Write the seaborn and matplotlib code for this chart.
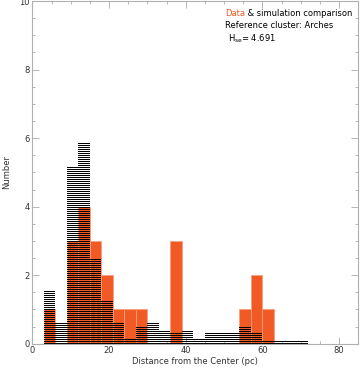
import warnings
import numpy as np
import pandas as pd
import matplotlib
matplotlib.use("Agg")
import matplotlib.pyplot as plt
import matplotlib.hatch as mhatch
from matplotlib.path import Path
import seaborn as sns
from matplotlib.ticker import MultipleLocator

warnings.filterwarnings("ignore")

# bin edges (pc)
bin_edges = [3, 6, 9, 12, 15, 18, 21, 24, 27, 30, 33, 36, 39, 42, 45, 48,
             51, 54, 57, 60, 63, 66, 69, 72]
bin_centers = [4.5, 7.5, 10.5, 13.5, 16.5, 19.5, 22.5, 25.5, 28.5, 31.5, 34.5,
               37.5, 40.5, 43.5, 46.5, 49.5, 52.5, 55.5, 58.5, 61.5, 64.5,
               67.5, 70.5]
# observed data counts
data_counts = [1, 0, 3, 4, 3, 2, 1, 1, 1, 0, 0, 3, 0, 0, 0, 0, 0, 1, 2, 1,
               0, 0, 0]
# simulation (mean) counts
sim_counts = [1.55, 0.6, 5.18, 5.87, 2.49, 1.27, 0.59, 0.18, 0.48, 0.59, 0.36,
              0.32, 0.36, 0.18, 0.32, 0.32, 0.32, 0.48, 0.32, 0.08, 0.07,
              0.07, 0.07]

df = pd.DataFrame({"center": bin_centers, "data": data_counts,
                   "sim": sim_counts})

DPI = 72
S = 100 / DPI  # scale point sizes so they look as at 100 dpi


class PixelHorizontalHatch(mhatch.HatchPatternBase):
    """Horizontal hatch lines centred on pixel rows (crisp stripes)."""

    def __init__(self, hatch, density):
        self.num_lines = int(hatch.count('=') * density)
        self.num_vertices = self.num_lines * 2

    def set_vertices_and_codes(self, vertices, codes):
        steps = np.arange(self.num_lines) / self.num_lines + 0.5 / DPI
        vertices[0::2, 0] = 0.0
        vertices[0::2, 1] = steps
        vertices[1::2, 0] = 1.0
        vertices[1::2, 1] = steps
        codes[0::2] = Path.MOVETO
        codes[1::2] = Path.LINETO


mhatch._hatch_types.append(PixelHorizontalHatch)

sns.set_style("white")
plt.rcParams["font.family"] = ["DejaVu Sans"]
plt.rcParams["hatch.linewidth"] = 1.0
plt.rcParams["hatch.color"] = "black"

fig = plt.figure(figsize=(364 / DPI, 368 / DPI), dpi=DPI)
ax = fig.add_axes([0.089, 0.066, 0.895, 0.931])

red = "#F15A24"
sns.histplot(data=df, x="center", weights="data", bins=bin_edges,
             element="bars", fill=True, color=red, alpha=1.0,
             edgecolor="#F8A080", linewidth=0.6 * S, ax=ax)
sns.histplot(data=df, x="center", weights="sim", bins=bin_edges,
             element="bars", fill=False, edgecolor="black", linewidth=0.0,
             ax=ax)
for p in ax.patches[len(bin_centers):]:
    p.set_hatch("======")
    p.set_edgecolor("black")
    p.set_linewidth(0)
    p.set_fill(False)

ax.set_xlim(0, 85)
ax.set_ylim(0, 10)
ax.xaxis.set_major_locator(MultipleLocator(20))
ax.xaxis.set_minor_locator(MultipleLocator(5))
ax.yaxis.set_major_locator(MultipleLocator(2))
ax.yaxis.set_minor_locator(MultipleLocator(0.5))
ax.tick_params(which="both", direction="in", top=True, right=True,
               bottom=True, left=True, colors="#aaaaaa", labelcolor="#333333",
               labelsize=6 * S, pad=2 * S)
ax.tick_params(which="major", length=5 * S, width=0.6 * S)
ax.tick_params(which="minor", length=2.5 * S, width=0.6 * S)
for s in ax.spines.values():
    s.set_color("#b0b0b0")
    s.set_linewidth(0.8 * S)

ax.set_xlabel("Distance from the Center (pc)", fontsize=6 * S,
              color="#333333", labelpad=1 * S)
ax.set_ylabel("Number", fontsize=6 * S, color="#333333", labelpad=6 * S)

fs = 6 * S
t1 = ax.text(0.592, 0.977, "Data", transform=ax.transAxes, color=red,
             fontsize=fs, va="top", ha="left")
ax.annotate(" & simulation comparison", xy=(1, 0), xycoords=t1,
            va="bottom", ha="left", fontsize=fs, color="black")
ax.text(0.592, 0.942, "Reference cluster: Arches", transform=ax.transAxes,
        color="black", fontsize=fs, va="top", ha="left")
ax.text(0.600, 0.909, r"H$_{\mathregular{se}}$= 4.691", transform=ax.transAxes,
        color="black", fontsize=fs, va="top", ha="left")

fig.savefig("out.png", dpi=DPI)
